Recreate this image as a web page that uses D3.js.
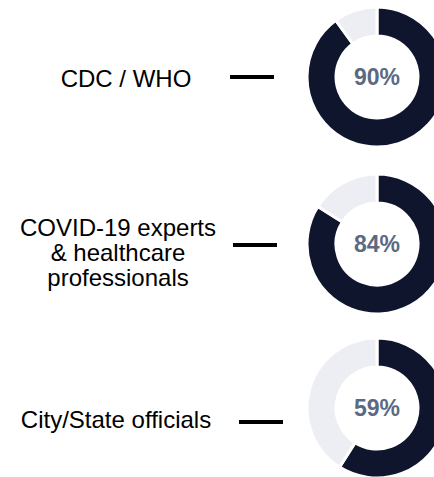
<!DOCTYPE html>
<html>
<head>
<meta charset="utf-8">
<script src="https://cdn.jsdelivr.net/npm/d3@7"></script>
<style>
    body{ margin:0; background:#fff; }
    svg{ display:block; font-family:"Liberation Sans", Arial, sans-serif; }
</style>
</head>
<body>
<svg id="chart"></svg>
<script>
// source categories and share of trust (%)
const categories = ["CDC / WHO", "COVID-19 experts & healthcare professionals", "City/State officials"];
const labelLines = [["CDC / WHO"], ["COVID-19 experts", "& healthcare", "professionals"], ["City/State officials"]];
const values = [90, 84, 59];

const width = 434, height = 477;
const svg = d3.select("#chart").attr("width", width).attr("height", height);

// row layout
const donutY = d3.scaleOrdinal().domain(categories).range([77, 244, 408]);
const labelY = d3.scaleOrdinal().domain(categories).range([78, 252, 419]);
const labelX = d3.scaleOrdinal().domain(categories).range([126, 118, 116]);
const dashY  = d3.scaleOrdinal().domain(categories).range([77, 245, 422]);
const dashX  = d3.scaleOrdinal().domain(categories).range([230, 233, 239]);

const outerR = 70, innerR = 41, cx = 377;

const pie = d3.pie().sort(null).value(d => d);
const arc = d3.arc().innerRadius(innerR).outerRadius(outerR);

const rows = svg.selectAll("g.row")
    .data(categories.map((c, i) => ({ cat: c, lines: labelLines[i], value: values[i] })))
    .join("g")
    .attr("class", "row");

// donuts
const donut = rows.append("g")
    .attr("transform", d => `translate(${cx},${donutY(d.cat)})`);

donut.selectAll("path")
    .data(d => pie([d.value, 100 - d.value]))
    .join("path")
    .attr("d", arc)
    .attr("fill", (d, i) => i === 0 ? "#10152e" : "#eceef3")
    .attr("stroke", "#fff")
    .attr("stroke-width", 3);

donut.append("text")
    .attr("text-anchor", "middle")
    .attr("dy", "0.36em")
    .attr("font-size", 23)
    .attr("font-weight", "bold")
    .attr("fill", "#5a6a82")
    .text(d => d.value + "%");

// labels
const lineH = 25;
rows.append("text")
    .attr("text-anchor", "middle")
    .attr("font-size", 24)
    .attr("fill", "#000")
    .attr("transform", d => `translate(${labelX(d.cat)},${labelY(d.cat)})`)
    .selectAll("tspan")
    .data(d => d.lines.map((t, i, arr) => ({ t, off: (i - (arr.length - 1) / 2) * lineH })))
    .join("tspan")
    .attr("x", 0)
    .attr("y", d => d.off)
    .attr("dy", "0.36em")
    .text(d => d.t);

// connector dashes
rows.append("line")
    .attr("x1", d => dashX(d.cat))
    .attr("x2", d => dashX(d.cat) + 44)
    .attr("y1", d => dashY(d.cat))
    .attr("y2", d => dashY(d.cat))
    .attr("stroke", "#000")
    .attr("stroke-width", 4);
</script>
</body>
</html>
